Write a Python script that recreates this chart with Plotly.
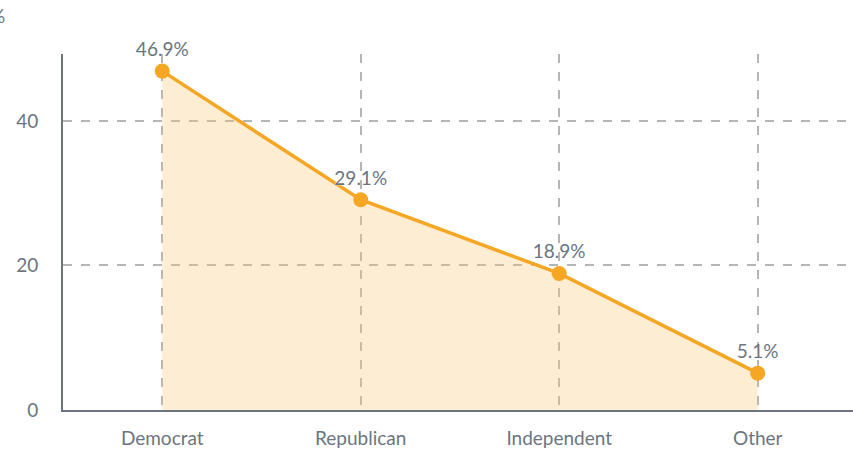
import plotly.graph_objects as go

parties = ["Democrat", "Republican", "Independent", "Other"]
shares = [46.9, 29.1, 18.9, 5.1]
y_ticks = [0, 20, 40]

text_color = "#6b7580"
orange = "#f5a623"

fig = go.Figure()
fig.add_trace(go.Scatter(
    x=parties,
    y=shares,
    mode="lines+markers+text",
    text=[f"{v}%" for v in shares],
    textposition="top center",
    textfont=dict(family="Lato", size=19, color=text_color,
                  shadow="0px 0px 2px white"),
    line=dict(color=orange, width=3.5),
    marker=dict(color=orange, size=15),
    fill="tozeroy",
    fillcolor="rgba(248, 200, 120, 0.33)",
    cliponaxis=False,
    hoverinfo="skip",
))

fig.update_layout(
    width=853,
    height=450,
    margin=dict(l=63, r=0, t=54, b=40),
    plot_bgcolor="white",
    paper_bgcolor="white",
    showlegend=False,
    font=dict(family="Lato", size=19, color=text_color),
    xaxis=dict(
        range=[-0.5, 3.48],
        showgrid=True,
        gridcolor="#b5b5b5",
        griddash="dash",
        gridwidth=1.5,
        showline=True,
        linecolor="#6c757d",
        linewidth=2,
        ticks="",
        ticklabelstandoff=10,
        tickfont=dict(size=19, color=text_color),
    ),
    yaxis=dict(
        range=[0, 49.27],
        tickvals=y_ticks,
        showgrid=True,
        gridcolor="#b5b5b5",
        griddash="dash",
        gridwidth=1.5,
        zeroline=False,
        showline=True,
        linecolor="#6c757d",
        linewidth=2,
        ticks="",
        ticklabelstandoff=19,
        tickfont=dict(size=19, color=text_color),
    ),
    annotations=[dict(
        text="%",
        xref="paper", yref="paper",
        x=(7 - 63) / 790, y=(410 - 15) / 356,
        xanchor="right", yanchor="middle",
        showarrow=False,
        font=dict(family="Lato", size=19, color=text_color),
    )],
)

# the page is photographed from its top-left corner, so drop the default body margin
fig.write_html("out.html", config={"displayModeBar": False},
               post_script="document.body.style.margin='0';")
